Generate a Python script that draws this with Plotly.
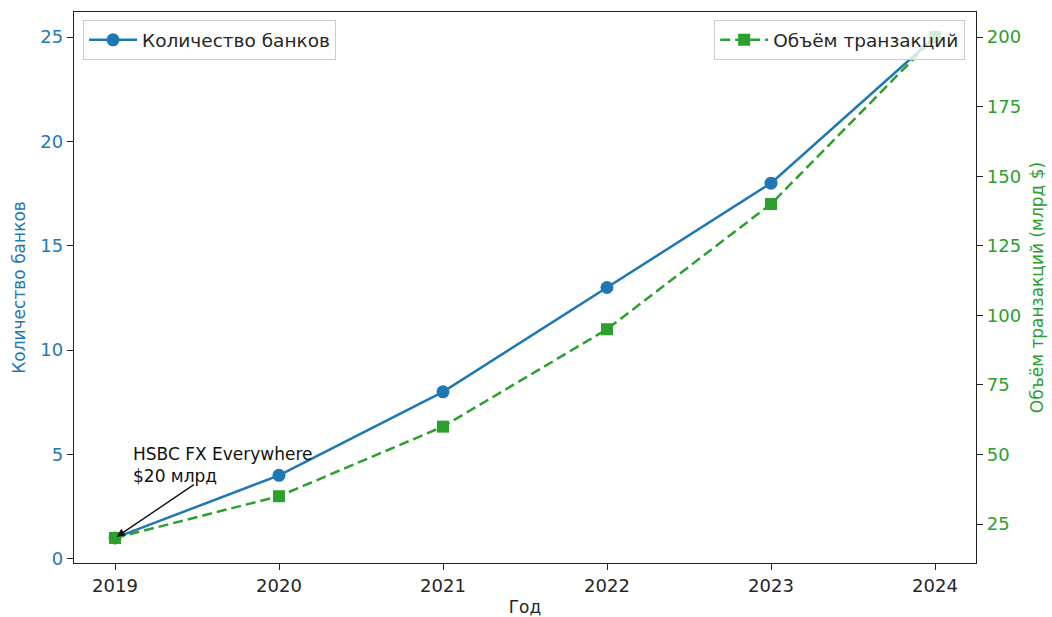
import plotly.graph_objects as go

years = [2019, 2020, 2021, 2022, 2023, 2024]
banks = [1, 4, 8, 13, 18, 25]
volume = [20, 35, 60, 95, 140, 200]
x_ticks = [2019, 2020, 2021, 2022, 2023, 2024]
left_ticks = [0, 5, 10, 15, 20, 25]
right_ticks = [25, 50, 75, 100, 125, 150, 175, 200]

BLUE = "#1f77b4"
GREEN = "#2ca02c"
FONT = "DejaVu Sans"

fig = go.Figure()
fig.add_trace(go.Scatter(
    x=years, y=banks, mode="lines+markers", name="Количество банков",
    line=dict(color=BLUE, width=2.5),
    marker=dict(symbol="circle", size=13, color=BLUE),
    legend="legend", yaxis="y",
))
fig.add_trace(go.Scatter(
    x=years, y=volume, mode="lines+markers", name="Объём транзакций",
    line=dict(color=GREEN, width=2.5, dash="10px,5px"),
    marker=dict(symbol="square", size=12, color=GREEN),
    legend="legend2", yaxis="y2",
))

fig.add_annotation(
    x=2019, y=1, xref="x", yref="y",
    ax=2019.49, ay=3.6, axref="x", ayref="y",
    text="", showarrow=True, arrowhead=2, arrowsize=1.2, arrowwidth=1.4,
    arrowcolor="#111111", standoff=2,
)
fig.add_annotation(
    x=2019.095, y=5.6, xref="x", yref="y",
    text="HSBC FX Everywhere<br>$20 млрд", showarrow=False,
    xanchor="left", yanchor="top", align="left",
    font=dict(family=FONT, size=17, color="#111111"),
)

axis_common = dict(
    showgrid=False, zeroline=False, showline=True, linecolor="#222222", linewidth=1.3,
    ticks="outside", ticklen=6, tickwidth=1.2, tickcolor="#222222", automargin=False,
)

fig.update_layout(
    width=1052, height=617,
    margin=dict(l=74, r=76, t=12, b=54),
    paper_bgcolor="white", plot_bgcolor="white",
    font=dict(family=FONT, size=18, color="#262626"),
    showlegend=True,
    xaxis=dict(
        range=[2018.75, 2024.25], tickvals=x_ticks, ticktext=[str(t) for t in x_ticks],
        title=dict(text="Год", font=dict(size=17, color="#262626"), standoff=6),
        tickfont=dict(size=18, color="#262626"), mirror=True, **axis_common,
    ),
    yaxis=dict(
        range=[-0.2, 26.2], tickvals=left_ticks,
        tickfont=dict(size=18, color=BLUE),
        title=dict(text="Количество банков", font=dict(size=17, color=BLUE), standoff=10),
        **axis_common,
    ),
    yaxis2=dict(
        range=[11, 209], tickvals=right_ticks, overlaying="y", side="right",
        tickfont=dict(size=18, color=GREEN),
        title=dict(text="Объём транзакций (млрд $)", font=dict(size=17, color=GREEN), standoff=10),
        **axis_common,
    ),
    legend=dict(
        x=0.01, y=0.985, xanchor="left", yanchor="top", itemwidth=48,
        bgcolor="rgba(255,255,255,0.8)", bordercolor="#cccccc", borderwidth=1,
        font=dict(family=FONT, size=18.5, color="#262626"),
    ),
    legend2=dict(
        x=0.988, y=0.985, xanchor="right", yanchor="top", itemwidth=48,
        bgcolor="rgba(255,255,255,0.8)", bordercolor="#cccccc", borderwidth=1,
        font=dict(family=FONT, size=18.5, color="#262626"),
    ),
)

fig.write_html("out.html", config={"displayModeBar": False},
               post_script="document.body.style.margin='0';")
